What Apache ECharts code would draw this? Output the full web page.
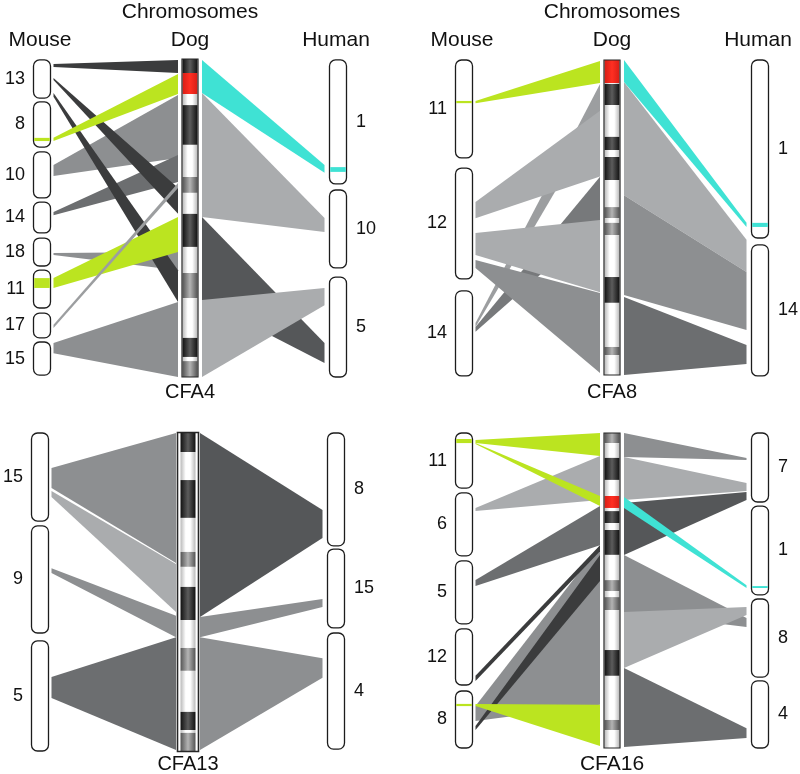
<!DOCTYPE html>
<html><head><meta charset="utf-8">
<script src="https://cdn.jsdelivr.net/npm/echarts@6.0.0/dist/echarts.min.js"></script>
<style>html,body{margin:0;padding:0;background:#fff}#c{width:800px;height:774px}</style>
</head><body><div id="c"></div>
<script>
// ---------- DATA (positions in % of the dog chromosome length, 0 = top) ----------
// Dog chromosome bands: [start, end, band type]
const cfa4Bands = [[0,4.4,'dark'],[4.4,11.0,'red'],[11.0,14.5,'white'],[14.5,27.0,'dark'],[27.0,37.1,'white'],[37.1,42.1,'gray'],[42.1,48.7,'white'],[48.7,59.1,'dark'],[59.1,67.3,'white'],[67.3,75.2,'gray'],[75.2,87.7,'white'],[87.7,93.7,'dark'],[93.7,95.0,'white'],[95.0,100,'gray']];
const cfa8Bands = [[0,7.3,'red'],[7.3,7.6,'white'],[7.6,14.3,'dark'],[14.3,24.4,'white'],[24.4,28.6,'dark'],[28.6,30.8,'white'],[30.8,38.1,'dark'],[38.1,46.7,'white'],[46.7,50.2,'gray'],[50.2,51.7,'white'],[51.7,55.6,'gray'],[55.6,68.9,'white'],[68.9,77.1,'dark'],[77.1,91.1,'white'],[91.1,93.7,'gray'],[93.7,100,'white']];
const cfa13Bands = [[0,6.0,'dark'],[6.0,14.8,'white'],[14.8,26.7,'dark'],[26.7,37.4,'white'],[37.4,42.1,'gray'],[42.1,48.4,'white'],[48.4,58.8,'dark'],[58.8,67.6,'white'],[67.6,74.8,'gray'],[74.8,87.7,'white'],[87.7,93.4,'dark'],[93.4,94.3,'white'],[94.3,100,'gray']];
const cfa16Bands = [[0,3.2,'gray'],[3.2,7.9,'white'],[7.9,14.9,'dark'],[14.9,20.0,'white'],[20.0,23.8,'red'],[23.8,24.8,'white'],[24.8,28.6,'dark'],[28.6,30.8,'white'],[30.8,38.7,'dark'],[38.7,46.7,'white'],[46.7,50.2,'gray'],[50.2,52.1,'white'],[52.1,56.2,'gray'],[56.2,68.9,'white'],[68.9,77.1,'dark'],[77.1,91.1,'white'],[91.1,94.3,'gray'],[94.3,100,'white']];

// Mouse / human chromosomes: [label, start, end]
const cfa4Mouse = [['13',0.3,12.3],['8',13.5,27.7],['10',29.2,43.7],['14',45.0,54.7],['18',56.3,65.1],['11',66.4,78.3],['17',79.9,87.7],['15',89.0,99.4]];
const cfa4Human = [['1',0.3,39.3],['10',41.2,65.7],['5',68.6,100]];
const cfa8Mouse = [['11',0,31.1],['12',34.3,69.5],['14',73.3,100.3]];
const cfa8Human = [['1',0,56.5],['14',58.7,100.3]];
const cfa13Mouse = [['15',0,27.7],['9',29.2,62.9],['5',65.4,100]];
const cfa13Human = [['8',0,35.5],['15',36.5,61.3],['4',62.9,99.4]];
const cfa16Mouse = [['11',0,17.5],['6',19.0,39.0],['5',40.6,60.6],['12',62.2,80.0],['8',81.9,100]];
const cfa16Human = [['7',0,21.9],['1',23.2,51.4],['8',52.7,77.5],['4',78.7,100]];

// Coloured marks inside chromosomes: [species, start, end, tone]
const cfa4Marks = [['mouse',24.8,25.8,'green'],['mouse',68.9,72.0,'green'],['human',34.0,35.5,'cyan']];
const cfa8Marks = [['mouse',13.0,13.7,'green'],['human',51.7,53.0,'cyan']];
const cfa13Marks = [];
const cfa16Marks = [['mouse',1.9,3.2,'green'],['mouse',86.0,86.7,'green'],['human',48.6,49.2,'cyan']];

// Mouse -> dog ribbons: [mouseStart, mouseEnd, dogStart, dogEnd, tone]
const cfa4Left = [[33.3,36.8,11.3,31.1,'gray'],[48.1,49.1,30.2,38.7,'midDark'],[61.0,61.6,60.7,66.4,'gray'],[89.3,92.5,76.4,100,'gray'],[6.0,6.6,40.5,48.7,'black'],[10.7,11.9,66.4,76.4,'black'],[1.6,2.5,0.3,4.4,'black'],[24.8,25.8,4.7,11.0,'green'],[68.9,72.0,49.7,60.7,'green'],[83.6,84.6,39.0,40.6,'pale']];
const cfa8Left = [[83.5,84.8,7.6,17.5,'pale'],[84.8,86.3,37.1,51.4,'mid'],[45.1,50.2,16.1,37.0,'light'],[54.9,61.9,50.8,73.7,'light'],[63.5,66.0,74.0,99.4,'gray'],[13.0,13.7,0.3,7.3,'green']];
const cfa13Left = [[11.0,17.3,0,40.9,'gray'],[18.2,20.1,41.2,56.3,'light'],[42.5,44.0,57.5,64.2,'gray'],[76.7,83.3,64.2,99.7,'midDark']];
const cfa16Left = [[23.8,24.8,7.3,21.3,'light'],[46.7,48.6,23.2,35.6,'midDark'],[86.7,91.4,35.6,86.3,'gray'],[77.1,78.7,35.6,37.5,'black'],[93.0,94.3,38.7,47.0,'black'],[2.2,3.2,0,7.3,'green'],[3.2,3.5,20.0,23.2,'green'],[86.0,86.7,86.3,99.4,'green']];

// Dog -> human ribbons: [dogStart, dogEnd, humanStart, humanEnd, tone]
const cfa4Right = [[10.7,49.7,50.0,54.4,'light'],[49.7,75.8,89.3,95.6,'dark'],[75.8,100,72.0,77.4,'light'],[0.3,10.7,33.3,35.8,'cyan']];
const cfa8Right = [[7.0,42.9,57.1,67.3,'light'],[42.9,74.6,67.3,85.7,'gray'],[75.2,100,90.5,96.5,'midDark'],[0,7.0,51.7,53.0,'cyan']];
const cfa13Right = [[0,57.9,24.2,33.0,'dark'],[57.9,64.2,52.2,54.7,'gray'],[64.2,99.7,70.8,77.0,'gray']];
const cfa16Right = [[0,7.6,7.9,8.6,'gray'],[7.6,21.3,15.9,18.4,'light'],[22.2,38.7,18.7,21.3,'dark'],[38.7,56.8,58.7,61.6,'gray'],[56.8,74.6,55.2,57.8,'light'],[74.6,99.7,93.7,96.8,'midDark'],[20.3,23.8,48.3,49.2,'cyan']];

const speciesLabels = ['Mouse','Dog','Human'];
const titleText = 'Chromosomes';
const dogNames = ['CFA4','CFA8','CFA13','CFA16'];

// ---------- STYLE / LAYOUT ----------
const TONES = {black:'#3b3c3d',dark:'#555759',midDark:'#6c6e70',mid:'#77797b',gray:'#8d8f91',pale:'#9c9ea0',light:'#aaacae',green:'#bbe420',cyan:'#3fe2d4'};
const FONT = '"Liberation Sans", Arial, sans-serif';
const CH_HALF = 8.5, DOG_HALF = 8;
const panels = [
  {bands:cfa4Bands,mouse:cfa4Mouse,human:cfa4Human,marks:cfa4Marks,left:cfa4Left,right:cfa4Right,grid:{left:42,top:59,width:296,height:318},title:true,nameY:392,nameSize:20,frame:0},
  {bands:cfa8Bands,mouse:cfa8Mouse,human:cfa8Human,marks:cfa8Marks,left:cfa8Left,right:cfa8Right,grid:{left:464,top:60,width:296,height:315},title:true,nameY:392,nameSize:20,frame:0},
  {bands:cfa13Bands,mouse:cfa13Mouse,human:cfa13Human,marks:cfa13Marks,left:cfa13Left,right:cfa13Right,grid:{left:40,top:433,width:296,height:318},title:false,nameY:764,nameSize:20,frame:2.5},
  {bands:cfa16Bands,mouse:cfa16Mouse,human:cfa16Human,marks:cfa16Marks,left:cfa16Left,right:cfa16Right,grid:{left:464,top:433,width:296,height:315},title:false,nameY:764,nameSize:21,frame:0}
];
function grad(stops){return new echarts.graphic.LinearGradient(0,0,1,0,stops.map((c,i)=>({offset:c[0],color:c[1]})));}
const BAND_FILL = {
  white: ()=>grad([[0,'#b9b9b9'],[0.35,'#ffffff'],[0.65,'#ffffff'],[1,'#b9b9b9']]),
  dark:  ()=>grad([[0,'#121212'],[0.5,'#5c5c5c'],[1,'#121212']]),
  gray:  ()=>grad([[0,'#555555'],[0.5,'#b4b4b4'],[1,'#555555']]),
  red:   ()=>grad([[0,'#d81e16'],[0.5,'#ff2f22'],[1,'#d81e16']])
};

const chart = echarts.init(document.getElementById('c'), null, {renderer:'canvas'});
const grids=[], xAxes=[], yAxes=[], series=[], graphics=[];

panels.forEach((p, i) => {
  grids.push(Object.assign({show:false}, p.grid));
  xAxes.push({gridIndex:i,type:'value',min:0,max:2,show:false});
  yAxes.push({gridIndex:i,type:'value',min:0,max:100,inverse:true,show:false});
  const ax = {xAxisIndex:i,yAxisIndex:i,clip:false,silent:true,animation:false};

  // ribbons
  const rows = p.left.map(r=>({r,side:0})).concat(p.right.map(r=>({r,side:1})));
  series.push(Object.assign({type:'custom',z:1,
    data: rows.map(o=>[o.side, o.r[0], o.r[1], o.r[2], o.r[3]]),
    renderItem:(params, api)=>{
      const side = api.value(0);
      const a0 = api.coord([side, api.value(1)]), a1 = api.coord([side, api.value(2)]);
      const b0 = api.coord([side+1, api.value(3)]), b1 = api.coord([side+1, api.value(4)]);
      const xa = a0[0] + (side===0 ? CH_HALF+3 : DOG_HALF+4);
      const xb = b0[0] - (side===0 ? DOG_HALF+4 : CH_HALF+5);
      return {type:'polygon',shape:{points:[[xa,a0[1]],[xb,b0[1]],[xb,b1[1]],[xa,a1[1]]]},
        style:{fill:TONES[rows[params.dataIndex].r[4]]}};
    }}, ax));

  // mouse & human chromosomes with labels
  const chroms = p.mouse.map(c=>({c,col:0})).concat(p.human.map(c=>({c,col:2})));
  series.push(Object.assign({type:'custom',z:3,
    data: chroms.map(o=>[o.col, o.c[1], o.c[2]]),
    renderItem:(params, api)=>{
      const col = api.value(0);
      const t = api.coord([col, api.value(1)]), b = api.coord([col, api.value(2)]);
      const lab = chroms[params.dataIndex].c[0];
      return {type:'group',children:[
        {type:'rect',shape:{x:t[0]-CH_HALF,y:t[1],width:CH_HALF*2,height:b[1]-t[1],r:6},
          style:{fill:'#ffffff',stroke:'#1c1c1c',lineWidth:1.3}},
        {type:'text',style:{text:lab,x: col===0 ? t[0]-17 : t[0]+18, y:(t[1]+b[1])/2,
          align: col===0?'right':'left', verticalAlign:'middle', font:'18px '+FONT, fill:'#111'}}
      ]};
    }}, ax));

  // coloured marks inside chromosomes
  series.push(Object.assign({type:'custom',z:4,
    data: p.marks.map(m=>[m[0]==='mouse'?0:2, m[1], m[2]]),
    renderItem:(params, api)=>{
      const col = api.value(0);
      const t = api.coord([col, api.value(1)]), b = api.coord([col, api.value(2)]);
      return {type:'rect',shape:{x:t[0]-CH_HALF+0.7,y:t[1],width:CH_HALF*2-1.4,height:Math.max(1.5,b[1]-t[1])},
        style:{fill:TONES[p.marks[params.dataIndex][3]]}};
    }}, ax));

  // dog bands
  series.push(Object.assign({type:'custom',z:3,
    data: p.bands.map(b=>[1, b[0], b[1]]),
    renderItem:(params, api)=>{
      const t = api.coord([1, api.value(1)]), b = api.coord([1, api.value(2)]);
      const w = DOG_HALF - 0.5;
      return {type:'rect',shape:{x:t[0]-w,y:t[1],width:w*2,height:b[1]-t[1]},
        style:{fill:BAND_FILL[p.bands[params.dataIndex][2]]()}};
    }}, ax));

  // dog outline
  const span = [p.bands[0][0], p.bands[p.bands.length-1][1]];
  series.push(Object.assign({type:'custom',z:5,
    data: [[1, span[0], span[1]]],
    renderItem:(params, api)=>{
      const t = api.coord([1, api.value(1)]), b = api.coord([1, api.value(2)]);
      const f = p.frame;
      return {type:'rect',shape:{x:t[0]-DOG_HALF-f,y:t[1]-(f?0.5:0),width:(DOG_HALF+f)*2,height:b[1]-t[1]+(f?1:0)},
        style:{fill:'none',stroke:'#262626',lineWidth:f?1.6:1.2}};
    }}, ax));

  // texts
  const g = p.grid;
  const xs = [g.left, g.left+g.width/2, g.left+g.width];
  if (p.title) {
    graphics.push({type:'text',x:xs[1],y:12,style:{text:titleText,font:'21px '+FONT,fill:'#111',align:'center',verticalAlign:'middle'}});
    speciesLabels.forEach((s,k)=>{
      graphics.push({type:'text',x:xs[k]+(k===0?-2:0)+(k===2?-2:0),y:40,style:{text:s,font:'21px '+FONT,fill:'#111',align:'center',verticalAlign:'middle'}});
    });
  }
  graphics.push({type:'text',x:xs[1],y:p.nameY,style:{text:dogNames[i],font:p.nameSize+'px '+FONT,fill:'#111',align:'center',verticalAlign:'middle'}});
});

chart.setOption({
  animation:false,
  backgroundColor:'#ffffff',
  grid:grids, xAxis:xAxes, yAxis:yAxes, series:series, graphic:graphics
});
</script></body></html>
